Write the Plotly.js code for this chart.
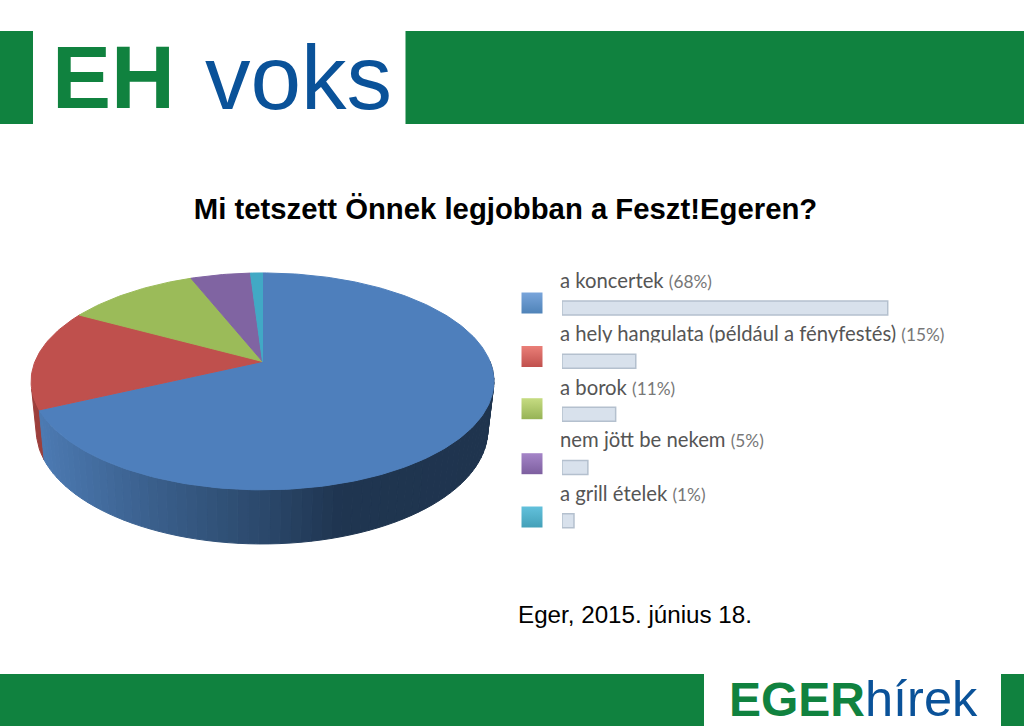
<!DOCTYPE html>
<html>
<head>
<meta charset="utf-8">
<script src="https://cdn.plot.ly/plotly-3.0.1.min.js"></script>
<style>html,body{margin:0;padding:0;background:#fff}#chart{width:1024px;height:726px}</style>
</head>
<body>
<div id="chart"></div>
<script>
// ---- data ----
const categories = ["a koncertek", "a hely hangulata (például a fényfestés)", "a borok", "nem jött be nekem", "a grill ételek"];
const shares = [68, 15, 11, 5, 1];
const barLengths = [68, 15.4, 11.2, 5.4, 2.5];
const sliceColors = ["#4e7fbc", "#bf504d", "#9bbb59", "#8064a2", "#41a9c5"];
const swatchLight = ["#79a5db", "#ea7f78", "#c6dc82", "#a585c8", "#62c1dc"];
const swatchDark = ["#4f83b8", "#c0504d", "#96b355", "#7d5f9f", "#43a0b8"];
const chartTitle = "Mi tetszett Önnek legjobban a Feszt!Egeren?";
const dateLine = "Eger, 2015. június 18.";

// ---- page geometry (page-pixel axes) ----
const GREEN = "#10823f", BLUE = "#0a5299";
const topRim = {x0: 262.5, y0: 361.5, B: 227.5, A: 104.8, k: 0.1834};
const bottomRim = {x0: 262, y0: 409, B: 222, A: 110.2, k: 0.1834};
function project(rim, pct) {
  const t = pct / 100 * 2 * Math.PI, u = Math.sin(t), v = Math.cos(t), w = 1 + rim.k * v;
  return [rim.x0 + rim.B * u / w, rim.y0 - rim.A * v / w];
}
function poly(xs, ys, color) {
  return {type: "scatter", mode: "lines", x: xs, y: ys, fill: "toself", fillcolor: color,
    line: {color: color, width: 1}, hoverinfo: "skip", showlegend: false, xaxis: "x", yaxis: "y"};
}
function mix(a, b, f) {
  return "rgb(" + a.map((c, i) => Math.round(c + (b[i] - c) * f)).join(",") + ")";
}
const wallStops = [[40, [76, 122, 178]], [150, [58, 95, 140]], [255, [44, 74, 110]], [340, [31, 53, 80]], [500, [31, 52, 78]]];
function wallColor(x) {
  for (let i = 0; i < wallStops.length - 1; i++) {
    if (x <= wallStops[i + 1][0]) {
      const f = Math.max(0, (x - wallStops[i][0]) / (wallStops[i + 1][0] - wallStops[i][0]));
      return mix(wallStops[i][1], wallStops[i + 1][1], f);
    }
  }
  return mix(wallStops[4][1], wallStops[4][1], 0);
}

const traces = [];
// side wall: blue slice, from the right of the pie to the end of its share
const wallStart = 25, wallEnd = shares[0], wallSteps = 70;
for (let i = 0; i < wallSteps; i++) {
  const a = wallStart + (wallEnd - wallStart) * i / wallSteps;
  const b = wallStart + (wallEnd - wallStart) * (i + 1) / wallSteps;
  const p = [project(topRim, a), project(topRim, b), project(bottomRim, b), project(bottomRim, a)];
  traces.push(poly(p.map(q => q[0]).concat(p[0][0]), p.map(q => q[1]).concat(p[0][1]), wallColor((p[0][0] + p[1][0]) / 2)));
}
// side wall: the sliver of the red slice
(function () {
  const xs = [], ys = [];
  for (let a = shares[0]; a <= 71; a += 0.5) { const q = project(topRim, a); xs.push(q[0]); ys.push(q[1]); }
  for (let a = 71; a >= shares[0]; a -= 0.5) { const q = project(bottomRim, a); xs.push(q[0]); ys.push(q[1]); }
  xs.push(xs[0]); ys.push(ys[0]);
  traces.unshift(poly(xs, ys, "#9c3f3c"));
})();
// top faces of the slices
let running = 0;
shares.forEach((s, idx) => {
  const xs = [topRim.x0], ys = [topRim.y0];
  const n = Math.max(6, Math.round(s * 3));
  for (let i = 0; i <= n; i++) {
    const q = project(topRim, running + s * i / n);
    xs.push(q[0]); ys.push(q[1]);
  }
  xs.push(topRim.x0); ys.push(topRim.y0);
  traces.push(poly(xs, ys, sliceColors[idx]));
  running += s;
});

// bars of the legend, on their own scale
traces.push({type: "bar", orientation: "h", x: barLengths, y: categories, xaxis: "x2", yaxis: "y2",
  marker: {color: "#d8e1ec", line: {color: "#b4c0ce", width: 1.5}}, hoverinfo: "skip", showlegend: false});

// legend swatches
const swatchY = [303, 356.5, 408.7, 463.7, 517];
traces.push({type: "scatter", mode: "markers", x: categories.map(() => 532), y: swatchY, xaxis: "x", yaxis: "y",
  marker: {symbol: "square", size: 21, color: swatchLight, line: {width: 0},
    gradient: {type: "vertical", color: swatchDark}}, hoverinfo: "skip", showlegend: false});

// legend labels
const labelY = [283, 336, 390, 442, 496];
traces.push({type: "scatter", mode: "text", x: categories.map(() => 560), y: labelY, xaxis: "x", yaxis: "y",
  text: categories.map((c, i) => c + ' <span style="font-size:17.3px;fill:#777">(' + shares[i] + '%)</span>'),
  textposition: "middle right", textfont: {family: "Lato, sans-serif", size: 20.3, color: "#555"},
  hoverinfo: "skip", showlegend: false});

const band = (x0, y0, x1, y1) => ({type: "rect", xref: "x", yref: "y", x0, y0, x1, y1, fillcolor: GREEN, line: {width: 0}, layer: "below"});
const note = (text, x, y, size, color, anchor) => ({text, x, y, xref: "x", yref: "y", xanchor: anchor || "left", yanchor: "middle",
  showarrow: false, font: {family: "Liberation Sans, Arial, sans-serif", size, color}});

const layout = {
  width: 1024, height: 726, margin: {l: 0, r: 0, t: 0, b: 0}, paper_bgcolor: "#fff", plot_bgcolor: "rgba(0,0,0,0)",
  showlegend: false, hovermode: false, barmode: "overlay", bargap: 0.737,
  title: {text: "<b>" + chartTitle + "</b>", x: 505.5 / 1024, xanchor: "center", y: 1 - 209 / 726, yanchor: "middle",
    font: {family: "Liberation Sans, Arial, sans-serif", size: 29.3, color: "#000"}},
  xaxis: {range: [0, 1024], domain: [0, 1], visible: false, fixedrange: true},
  yaxis: {range: [726, 0], domain: [0, 1], visible: false, fixedrange: true},
  xaxis2: {range: [0, (1024 - 562) / 4.79], domain: [562 / 1024, 1], anchor: "y2", visible: false, fixedrange: true},
  yaxis2: {type: "category", categoryorder: "array", categoryarray: categories, autorange: "reversed",
    domain: [1 - 547.3 / 726, 1 - 281.4 / 726], anchor: "x2", visible: false, fixedrange: true},
  shapes: [
    band(0, 31, 33, 124), band(405.5, 31, 1024, 124),
    band(0, 674, 704, 726), band(1001, 674, 1024, 726),
    // the source screenshot cuts off the descenders of the second label
    {type: "rect", xref: "x", yref: "y", x0: 555, x1: 898, y0: 342.5, y1: 352, fillcolor: "#fff", line: {width: 0}, layer: "above"}
  ],
  annotations: [
    note("<b>EH</b>", 50, 77, 88.5, GREEN),
    note("voks", 203, 77, 91, BLUE),
    note("<b>EGER</b>", 727, 699, 48, GREEN),
    note("hírek", 863, 698, 50.5, BLUE),
    note(dateLine, 516, 614, 24.2, "#000")
  ]
};
Plotly.newPlot("chart", traces, layout, {displayModeBar: false, staticPlot: true});
</script>
</body>
</html>
